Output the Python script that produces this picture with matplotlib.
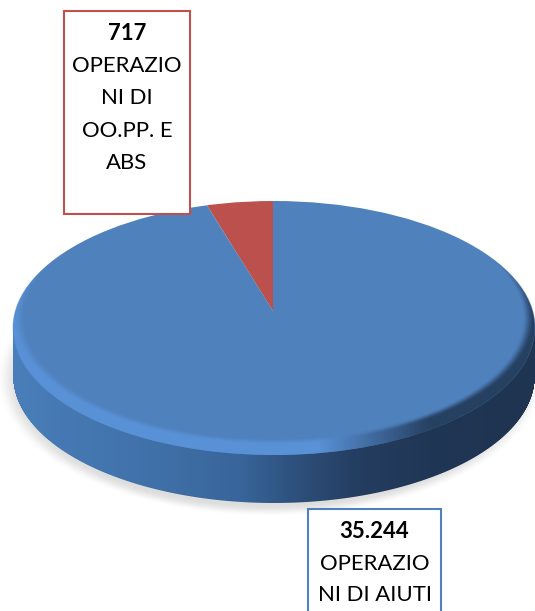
import numpy as np
import matplotlib
matplotlib.use("Agg")
import matplotlib.pyplot as plt
from matplotlib.patches import Circle, Rectangle

plt.rcParams['font.family'] = ['Lato', 'DejaVu Sans']

# --- data ---
value_labels = ["717", "35.244"]
category_lines = [["OPERAZIO", "NI DI", "OO.PP. E", "ABS"], ["OPERAZIO", "NI DI AIUTI"]]
slice_shares = [4.7, 95.3]   # shares of the disc as drawn in the picture
slice_colors = ["#bb504c", "#4f81bd"]

W, H = 535, 611
cx, cy, rx, ry = 274.0, 328.0, 261.0, 127.0
apex_x, apex_y = 273.0, 311.0
depth = 48.0

fig = plt.figure(figsize=(W / 100, H / 100), dpi=100, facecolor="white")


def px_axes(z):
    a = fig.add_axes([0, 0, 1, 1], zorder=z)
    a.set_xlim(0, W)
    a.set_ylim(H, 0)
    a.axis("off")
    a.patch.set_alpha(0)
    return a


def smooth(e0, e1, v):
    t = np.clip((v - e0) / (e1 - e0), 0, 1)
    return t * t * (3 - 2 * t)


def hex_rgb(c):
    return np.array(matplotlib.colors.to_rgb(c))


X, Y = np.meshgrid(np.arange(W) + 0.5, np.arange(H) + 0.5)

# back layer: shadow and the side wall of the disc
back = px_axes(1)
rs = np.sqrt(((X - 270) / 271) ** 2 + ((Y - 378) / 137) ** 2)
shadow = np.zeros((H, W, 4))
shadow[..., :3] = 0.35
shadow[..., 3] = 0.2 * (1 - smooth(0.93, 1.01, rs))
back.imshow(shadow, extent=(0, W, H, 0), interpolation="bilinear", aspect="auto", zorder=1)

u = np.clip((X - cx) / rx, -1, 1)
edge = np.sqrt(1 - u ** 2)
low = cy + ry * edge
side_alpha = np.clip(low + depth - Y + 0.5, 0, 1) * np.clip(Y - cy + 0.5, 0, 1)
side_alpha *= np.clip(rx - np.abs(X - cx) + 0.5, 0, 1)
stops_x = [13, 60, 160, 240, 300, 360, 430, 535]
stops_c = np.array([hex_rgb(c) for c in
                    ["#4a7fbb", "#4679b3", "#4070a8", "#38659a", "#2d4f7a", "#243d60", "#203655", "#1f3450"]])
side = np.zeros((H, W, 4))
for i in range(3):
    side[..., i] = np.interp(X, stops_x, stops_c[:, i])
side[..., 3] = side_alpha
back.imshow(side, extent=(0, W, H, 0), interpolation="bilinear", aspect="auto", zorder=2)
back.set_xlim(0, W)
back.set_ylim(H, 0)

# pie layer: unit circle = top ellipse of the disc
pie_ax = fig.add_axes([0, 0, 1, 1], zorder=2)
wedges, _ = pie_ax.pie(slice_shares, colors=slice_colors, startangle=90, radius=3.0,
                       center=((apex_x - cx) / rx, (cy - apex_y) / ry),
                       wedgeprops=dict(linewidth=0))
pie_ax.set_aspect("auto")
pie_ax.set_xlim((0 - cx) / rx, (W - cx) / rx)
pie_ax.set_ylim((cy - H) / ry, cy / ry)
pie_ax.axis("off")
pie_ax.patch.set_alpha(0)
clip = Circle((0, 0), 1.0, transform=pie_ax.transData)
for w in wedges:
    w.set_clip_on(True)
    w.set_clip_path(clip)

# front layer: bevel on the rim, label boxes and text
front = px_axes(3)
r_out = np.sqrt(((X - cx) / rx) ** 2 + ((Y - cy) / ry) ** 2)
r_in = np.sqrt(((X - cx) / (rx - 1)) ** 2 + ((Y - (cy - 10)) / (ry - 1)) ** 2)
rim = np.zeros((H, W, 4))
rim_l, rim_r = hex_rgb("#5a94da"), hex_rgb("#1f3552")
for i in range(3):
    rim[..., i] = np.interp(X, [0, 320, 430, W], [rim_l[i], rim_l[i], rim_r[i], rim_r[i]])
rim[..., 3] = 0.85 * smooth(0.955, 1.0, r_in) * np.clip((1 - r_out) * ry + 0.5, 0, 1)
front.imshow(rim, extent=(0, W, H, 0), interpolation="bilinear", aspect="auto", zorder=1)
front.set_xlim(0, W)
front.set_ylim(H, 0)

boxes = [(64, 11, 126, 203, "#c0504d", 127), (308, 509, 133, 140, "#4f81bd", 374.5)]
first_y = [33, 532]
step = [32.6, 31.5]
for k, (bx, by, bw, bh, col, tx) in enumerate(boxes):
    front.add_patch(Rectangle((bx, by), bw, bh, facecolor="white", edgecolor=col,
                              linewidth=1.5, zorder=2))
    front.text(tx, first_y[k], value_labels[k], ha="center", va="center", fontsize=15.9,
               fontweight="bold", color="black", zorder=3)
    for j, line in enumerate(category_lines[k]):
        front.text(tx, first_y[k] + step[k] * (j + 1), line, ha="center", va="center",
                   fontsize=15.9, color="black", zorder=3)

fig.savefig("out.png", dpi=100)
